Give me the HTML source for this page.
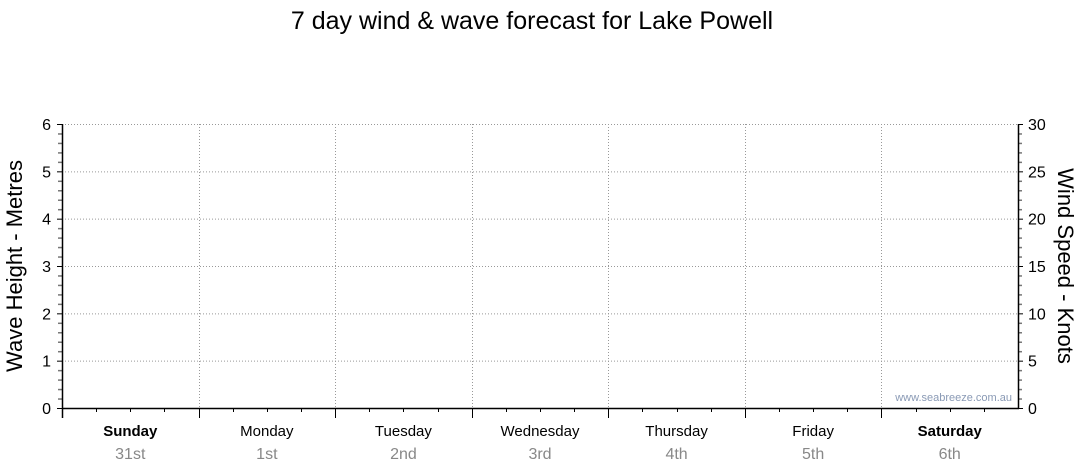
<!DOCTYPE html>
<html><head><meta charset="utf-8"><style>
html,body{margin:0;padding:0;background:#fff;}
svg{display:block;font-family:"Liberation Sans",sans-serif;}
</style></head><body>
<svg id="chart" width="1080" height="475" viewBox="0 0 1080 475" xmlns="http://www.w3.org/2000/svg">
<text x="532" y="29" text-anchor="middle" font-size="25" fill="#000">7 day wind &amp; wave forecast for Lake Powell</text>
<text transform="translate(22,266) rotate(-90)" text-anchor="middle" font-size="22" fill="#000">Wave Height - Metres</text>
<text transform="translate(1058,266) rotate(90)" text-anchor="middle" font-size="22" fill="#000">Wind Speed - Knots</text>
<text x="1012" y="401" text-anchor="end" font-size="11" fill="#8a9ab5">www.seabreeze.com.au</text>
<g id="grid"></g><g id="axes"></g><g id="labels"></g>
</svg>
<script>
const days = ["Sunday","Monday","Tuesday","Wednesday","Thursday","Friday","Saturday"];
const dates = ["31st","1st","2nd","3rd","4th","5th","6th"];
const boldDays = [true,false,false,false,false,false,true];
const waveTicks = [0,1,2,3,4,5,6];
const windTicks = [0,5,10,15,20,25,30];
const waveValues = [];
const windValues = [];

const X0=62, X1=1018, Y0=408, Y1=124;
const NS="http://www.w3.org/2000/svg";
const dayW=(X1-X0)/days.length;
const yWave=v=>Y0-(v/6)*(Y0-Y1);
const yWind=v=>Y0-(v/30)*(Y0-Y1);
const xDay=i=>X0+i*dayW;
function mk(tag,attrs,parent){const e=document.createElementNS(NS,tag);for(const k in attrs)e.setAttribute(k,attrs[k]);parent.appendChild(e);return e;}
const grid=document.getElementById('grid'),axes=document.getElementById('axes'),labels=document.getElementById('labels');

waveTicks.forEach(v=>{
  if(v>0){const g=mk('line',{x1:X0,x2:X1,y1:yWave(v)+0.5,y2:yWave(v)+0.5,stroke:'#999','stroke-dasharray':'1,2'},grid);
  
  }
  const t=mk('text',{x:X0-11,y:yWave(v)+6,'text-anchor':'end','font-size':'16',fill:'#000'},labels);
  t.textContent=v;
  
  
  mk('line',{x1:X0-5,x2:X0,y1:yWave(v)+0.5,y2:yWave(v)+0.5,stroke:'#000'},axes);
});
for(let v=0.2;v<6;v+=0.2){if(Math.abs(v-Math.round(v))<0.01)continue;mk('line',{x1:X0-4,x2:X0,y1:yWave(v)+0.5,y2:yWave(v)+0.5,stroke:'#777','stroke-width':1.5},axes);}
windTicks.forEach(v=>{
  const t=mk('text',{x:X1+10,y:yWind(v)+6,'font-size':'16',fill:'#000'},labels);
  t.textContent=v;
  
  
  mk('line',{x1:X1,x2:X1+5,y1:yWind(v)+0.5,y2:yWind(v)+0.5,stroke:'#000'},axes);
});
for(let v=1;v<30;v++){if(v%5===0)continue;mk('line',{x1:X1,x2:X1+4,y1:yWind(v)+0.5,y2:yWind(v)+0.5,stroke:'#777','stroke-width':1.5},axes);}

days.forEach((d,i)=>{
  if(i>0){const g=mk('line',{x1:Math.round(xDay(i))+0.5,x2:Math.round(xDay(i))+0.5,y1:Y1,y2:Y0,stroke:'#999','stroke-dasharray':'1,2'},grid);
  
  }
  mk('line',{x1:Math.round(xDay(i))+0.5,x2:Math.round(xDay(i))+0.5,y1:Y0,y2:Y0+10,stroke:'#000'},axes);
  for(let q=1;q<4;q++){const x=Math.round(xDay(i)+q*dayW/4)+0.5;mk('line',{x1:x,x2:x,y1:Y0,y2:Y0+4,stroke:'#000'},axes);}
  const cx=xDay(i)+dayW/2;
  const t=mk('text',{x:cx,y:436,'text-anchor':'middle','font-size':'15',fill:'#000','font-weight':boldDays[i]?'bold':'normal'},labels);
  t.textContent=d;
  
  
  const t2=mk('text',{x:cx,y:459,'text-anchor':'middle','font-size':'16',fill:'#888'},labels);
  t2.textContent=dates[i];
  
  
});
mk('line',{x1:X0+0.5,x2:X0+0.5,y1:Y1,y2:Y0+10,stroke:'#000','stroke-width':1.5},axes);
mk('line',{x1:X1+0.5,x2:X1+0.5,y1:Y1,y2:Y0,stroke:'#000','stroke-width':1.5},axes);
mk('line',{x1:X0,x2:X1+1,y1:Y0+0.5,y2:Y0+0.5,stroke:'#000','stroke-width':1.5},axes);
</script>
</body></html>
